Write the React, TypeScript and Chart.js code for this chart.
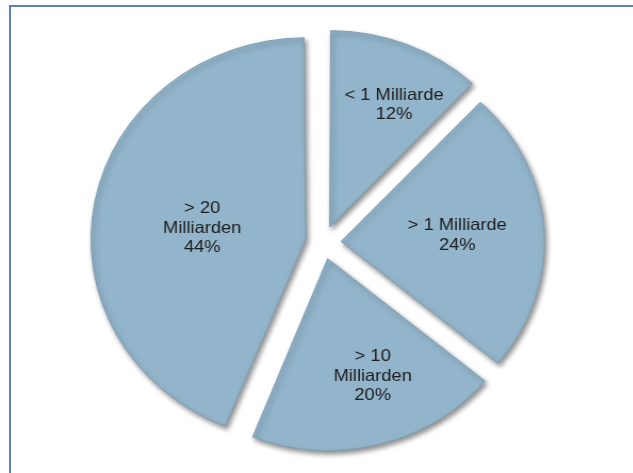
import React, { useEffect, useRef } from "react";
import { Chart, registerables } from "chart.js";

Chart.register(...registerables);

// ---- data ----
const CATEGORIES: string[][] = [
  ["< 1 Milliarde"],
  ["> 1 Milliarde"],
  ["> 10", "Milliarden"],
  ["> 20", "Milliarden"],
];
const VALUES: number[] = [12, 24, 20, 44];

// ---- style ----
const SLICE_COLOR = "#93b5cb";
const SLICE_BORDER = "#7f9fb4";
const TEXT_COLOR = "#1c1c1c";
const FRAME_COLOR = "#5b80c0";
const STRETCH_X = 1.065;
// label placement relative to each slice: distance (fraction of radius) and turn (deg)
const LABEL_DIST = [0.8, 0.66, 0.74, 0.6];
const LABEL_TURN = [4.2, 0.4, -4.8, -3.6];

const labelPlugin = {
  id: "sliceLabels",
  beforeDatasetsDraw(chart: any) {
    const ctx = chart.ctx;
    ctx.save();
    ctx.shadowColor = "rgba(0,0,0,0.45)";
    ctx.shadowBlur = 5;
    ctx.shadowOffsetX = 2;
    ctx.shadowOffsetY = 3;
  },
  afterDatasetsDraw(chart: any) {
    const ctx = chart.ctx;
    ctx.restore();
    const meta = chart.getDatasetMeta(0);
    const total = VALUES.reduce((a, b) => a + b, 0);
    ctx.save();
    ctx.fillStyle = TEXT_COLOR;
    ctx.font = '16.5px "Liberation Sans", Arial, sans-serif';
    ctx.textAlign = "center";
    ctx.textBaseline = "middle";
    meta.data.forEach((arc: any, i: number) => {
      const { x, y, startAngle, endAngle, outerRadius } = arc.getProps(
        ["x", "y", "startAngle", "endAngle", "outerRadius"],
        true
      );
      const mid = (startAngle + endAngle) / 2 + (LABEL_TURN[i] * Math.PI) / 180;
      const r = outerRadius * LABEL_DIST[i];
      const px = x + Math.cos(mid) * r;
      const py = y + Math.sin(mid) * r;
      const lines = [...CATEGORIES[i], Math.round((VALUES[i] / total) * 100) + "%"];
      const lh = 19.5;
      lines.forEach((t, j) => {
        const ty = py + (j - (lines.length - 1) / 2) * lh;
        ctx.save();
        ctx.translate(px, ty);
        ctx.scale(1.04, 1);
        ctx.fillText(t, 0, 0);
        ctx.restore();
      });
    });
    ctx.restore();
  },
};

export default function App() {
  const ref = useRef<HTMLCanvasElement | null>(null);

  useEffect(() => {
    if (!ref.current) return;
    const chart = new Chart(ref.current, {
      type: "pie",
      data: {
        labels: CATEGORIES.map((c) => c.join(" ")),
        datasets: [
          {
            data: VALUES,
            backgroundColor: SLICE_COLOR,
            borderColor: SLICE_BORDER,
            borderWidth: 1,
            offset: 67,
          },
        ],
      },
      options: {
        animation: false,
        responsive: true,
        maintainAspectRatio: false,
        events: [],
        radius: 191,
        layout: { padding: { left: 12, right: 0, top: 12, bottom: 0 } },
        plugins: {
          legend: { display: false },
          tooltip: { enabled: false },
        },
      } as any,
      plugins: [labelPlugin as any],
    });
    return () => chart.destroy();
  }, []);

  return (
    <div
      style={{
        position: "fixed",
        left: 0,
        top: 0,
        width: 633,
        height: 473,
        background: "#ffffff",
        overflow: "hidden",
      }}
    >
      <div
        style={{
          position: "absolute",
          left: 9,
          top: 5,
          width: 1000,
          height: 1000,
          border: `2px solid ${FRAME_COLOR}`,
        }}
      />
      <div
        style={{
          position: "absolute",
          left: 0,
          top: 0,
          width: 595,
          height: 473,
          transform: `scaleX(${STRETCH_X})`,
          transformOrigin: "0 0",
        }}
      >
        <canvas ref={ref} />
      </div>
    </div>
  );
}
